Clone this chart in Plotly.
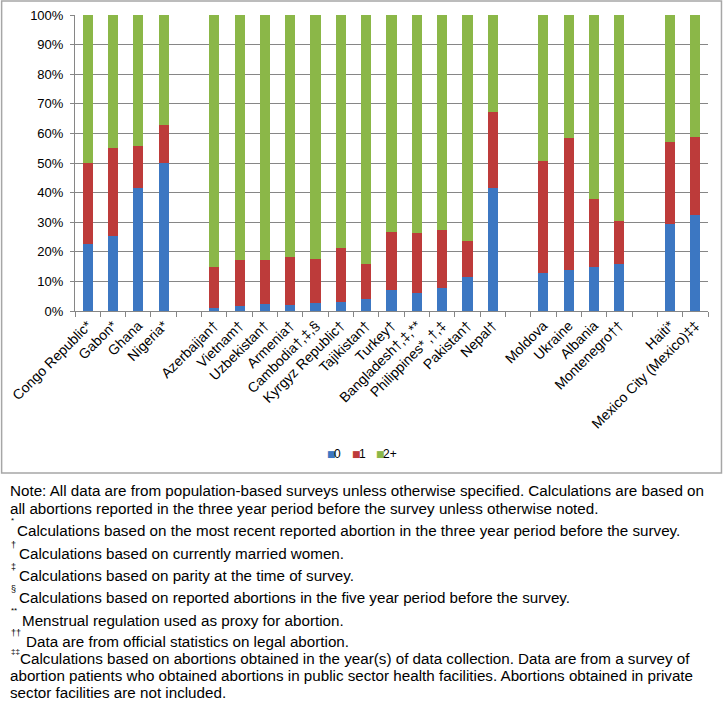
import plotly.graph_objects as go

# ---------------- data ----------------
countries = ["Congo Republic*", "Gabon*", "Ghana", "Nigeria*",
             "Azerbaijan†", "Vietnam†", "Uzbekistan†", "Armenia†", "Cambodia†,‡,§",
             "Kyrgyz Republic†", "Tajikistan†", "Turkey†", "Bangladesh†,‡,**",
             "Philippines* ,†,‡", "Pakistan†", "Nepal†",
             "Moldova", "Ukraine", "Albania", "Montenegro††",
             "Haiti*", "Mexico City (Mexico)‡‡"]
group_sizes = [4, 12, 4, 2]

pct0 = [22.7, 25.5, 41.7, 49.9,
        1.1, 1.8, 2.5, 2.1, 2.7, 3.0, 4.2, 7.1, 6.2, 7.8, 11.4, 41.4,
        12.8, 13.7, 14.9, 15.8,
        29.5, 32.5]
pct1 = [27.3, 29.7, 14.0, 13.0,
        13.9, 15.3, 14.6, 16.1, 15.0, 18.4, 11.7, 19.7, 20.2, 19.5, 12.1, 25.8,
        37.8, 44.6, 22.9, 14.5,
        27.7, 26.4]
pct2 = [50.0, 44.8, 44.3, 37.1,
        85.0, 82.9, 82.9, 81.8, 82.3, 78.6, 84.1, 73.2, 73.6, 72.7, 76.5, 32.8,
        49.4, 41.7, 62.2, 69.7,
        42.8, 41.1]

series_names = ["0", "1", "2+"]
series_colors = ["#3C77C2", "#BD3B3A", "#8BB748"]

y_ticks = list(range(0, 101, 10))
y_tick_labels = [f"{v}%" for v in y_ticks]

# ------------- build category axis with empty gap slots -------------
xcats, v0, v1, v2 = [], [], [], []
i = 0
for g, n in enumerate(group_sizes):
    if g > 0:
        gap = " " * g
        xcats.append(gap); v0.append(None); v1.append(None); v2.append(None)
    for _ in range(n):
        xcats.append(countries[i]); v0.append(pct0[i]); v1.append(pct1[i]); v2.append(pct2[i])
        i += 1

fig = go.Figure()
for name, vals, col in zip(series_names, [v0, v1, v2], series_colors):
    fig.add_trace(go.Bar(x=xcats, y=vals, name=name, marker=dict(color=col, line=dict(width=0)),
                         showlegend=False))

# ------------- pixel helpers -------------
W, H = 724, 705
L, R, T, B = 74.5, 708.5, 15, 311

def px(x):
    return (x - L) / (R - L)

def py(y):
    return (B - y) / (B - T)

FONT = "Liberation Sans, Arial, sans-serif"

fig.update_layout(
    width=W, height=H,
    margin=dict(l=L, r=W - R, t=T, b=H - B, pad=0, autoexpand=False),
    barmode="stack", bargap=0.6,
    paper_bgcolor="white", plot_bgcolor="white",
    font=dict(family=FONT, size=13, color="#000000"),
    showlegend=False,
    xaxis=dict(type="category", categoryorder="array", categoryarray=xcats,
               tickson="boundaries", ticks="outside", ticklen=5, tickcolor="#868686",
               showline=True, linecolor="#868686", linewidth=1, automargin=False,
               showgrid=False, tickangle=-45, tickfont=dict(size=14, color="#000")),
    yaxis=dict(range=[0, 100], tickmode="array", tickvals=y_ticks, ticktext=y_tick_labels,
               ticks="outside", ticklen=4, tickcolor="#868686", automargin=False,
               ticklabelstandoff=4,
               showline=True, linecolor="#868686", linewidth=1,
               showgrid=True, gridcolor="#868686", gridwidth=1,
               zeroline=False, tickfont=dict(size=13, color="#000")),
)

shapes = [dict(type="rect", xref="paper", yref="paper",
               x0=px(1), x1=px(722), y0=py(1), y1=py(473),
               line=dict(color="#A6A6A6", width=1.5), fillcolor="rgba(0,0,0,0)", layer="below")]
fig.update_layout(shapes=shapes)

ann = []
# legend made of coloured squares
leg_x = [325, 350, 374]
for lx, name, col in zip(leg_x, series_names, series_colors):
    ann.append(dict(x=px(lx), y=py(454), xref="paper", yref="paper", xanchor="left", yanchor="middle",
                    text=f'<span style="color:{col}">■</span>', showarrow=False,
                    font=dict(family="DejaVu Sans", size=9)))
    ann.append(dict(x=px(lx + 7), y=py(454), xref="paper", yref="paper", xanchor="left", yanchor="middle",
                    text=name, showarrow=False, font=dict(family=FONT, size=12, color="#000")))

# (symbol, symbol y, symbol size, text x, text y, text)
note_lines = [
    (None, 0, 0, 7, 490.5, "Note: All data are from population-based surveys unless otherwise specified. Calculations are based on"),
    (None, 0, 0, 7, 508, "all abortions reported in the three year period before the survey unless otherwise noted."),
    ("*", 520, 8, 14, 530, "Calculations based on the most recent reported abortion in the three year period before the survey."),
    ("†", 545, 9, 16, 553, "Calculations based on currently married women."),
    ("‡", 567, 9, 16, 575, "Calculations based on parity at the time of survey."),
    ("§", 589, 9, 16, 597, "Calculations based on reported abortions in the five year period before the survey."),
    ("**", 610, 8, 19, 620, "Menstrual regulation used as proxy for abortion."),
    ("††", 633, 9, 23, 642, "Data are from official statistics on legal abortion."),
    ("‡‡", 651, 8, 17, 658, "Calculations based on abortions obtained in the year(s) of data collection. Data are from a survey of"),
    (None, 0, 0, 7, 676, "abortion patients who obtained abortions in public sector health facilities. Abortions obtained in private"),
    (None, 0, 0, 7, 692, "sector facilities are not included."),
]
for sym, sy, ss, x, y, txt in note_lines:
    ann.append(dict(x=px(x), y=py(y), xref="paper", yref="paper", xanchor="left", yanchor="middle",
                    text=txt, showarrow=False, font=dict(family=FONT, size=15.2, color="#000")))
    if sym:
        ann.append(dict(x=px(8), y=py(sy), xref="paper", yref="paper", xanchor="left", yanchor="middle",
                        text=sym, showarrow=False, font=dict(family=FONT, size=ss, color="#000")))
fig.update_layout(annotations=ann)

fig.write_html("out.html", config={"displayModeBar": False},
               post_script="document.body.style.margin='0';")
